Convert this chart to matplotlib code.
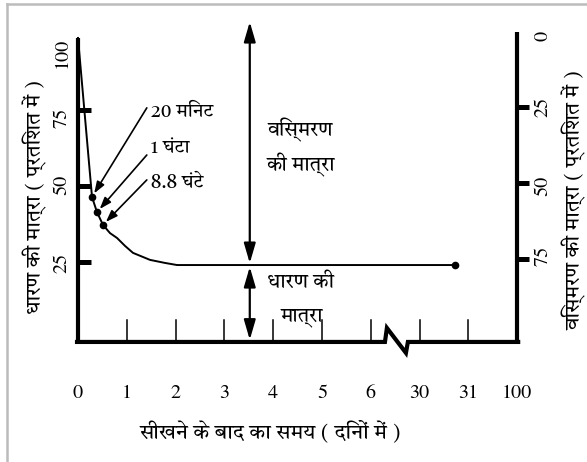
import matplotlib
matplotlib.use("Agg")
from matplotlib import pyplot as plt
from matplotlib.lines import Line2D

plt.rcParams['font.family'] = ['FreeSerif', 'DejaVu Sans']
HINDI = ['Tiro Devanagari Hindi', 'FreeSerif', 'DejaVu Sans']

# x positions are category slots (0..9), labelled with the days below
day_labels = ["0", "1", "2", "3", "4", "5", "6", "30", "31", "100"]

# retention curve (slot position, percent retained)
curve_x = [0.0, 0.287, 0.389, 0.512, 0.656, 0.80, 0.963, 1.127, 1.475, 1.78, 2.03, 7.73]
curve_y = [98.7, 46.4, 41.4, 37.2, 34.5, 32.9, 30.3, 28.0, 25.7, 24.7, 24.0, 24.0]

# marked points: 20 min, 1 hour, 8.8 hours
mark_x = [0.287, 0.389, 0.512]
mark_y = [46.4, 41.4, 37.2]
mark_text = ["20 मिनट", "1 घंटा", "8.8 घंटे"]

left_ticks = [25, 50, 75]
left_tick_labels = ["100", "75", "50", "25"]
right_tick_labels = ["0", "25", "50", "75"]

retained = 24.0
arrow_x = 3.52

fig = plt.figure(figsize=(5.87, 4.62), dpi=100)
ax = fig.add_axes([78 / 587, 124 / 462, 439.2 / 587, 304 / 462])
ax.set_xlim(0, 9)
ax.set_ylim(0, 100)
ax.axis('off')

# gray frame (top and left only, as in the scan)
fig.add_artist(Line2D([7 / 587, 7 / 587], [0, 1 - 4 / 462], color="#bcbcbc", lw=1.8))
fig.add_artist(Line2D([7 / 587, 1], [1 - 4 / 462, 1 - 4 / 462], color="#bcbcbc", lw=1.8))

# axes drawn by hand, with a break between 6 and 30
ax.plot([0, 0], [-1.3, 98.7], color="k", lw=3, clip_on=False, solid_capstyle="butt")
ax.plot([9, 9], [-1.3, 100.7], color="k", lw=3, clip_on=False, solid_capstyle="butt")
ax.plot([-0.02, 6.29, 6.33, 6.72, 6.76, 9.02], [-1.3, -1.3, 3.3, -4.9, -1.3, -1.3],
        color="k", lw=3, clip_on=False, solid_joinstyle="miter")

for v in left_ticks:
    ax.plot([0, 0.27], [v, v], color="k", lw=3.6, clip_on=False, solid_capstyle="butt")
    ax.plot([9, 9.25], [v + 1, v + 1], color="k", lw=3.6, clip_on=False, solid_capstyle="butt")

for i in range(1, 9):
    ax.plot([i, i], [-1.3, 5.8], color="k", lw=1.1, clip_on=False)

for i, lab in enumerate(day_labels):
    ax.text(i, -18.1, lab, ha="center", va="center", fontsize=14.5)

for y, lab in zip([93.8, 72.4, 50.3, 24.7], left_tick_labels):
    ax.text(-0.33, y, lab, ha="center", va="center", rotation=90, fontsize=14.5)

for y, lab in zip([99.3, 76.0, 50.0, 27.0], right_tick_labels):
    ax.text(9.53, y, lab, ha="center", va="center", rotation=90, fontsize=14.5)

ax.text(-0.88, 46.4, "धारण की मात्रा ( प्रतिशत में )", ha="center", va="center",
        rotation=90, fontsize=15, family=HINDI)
ax.text(10.18, 45.4, "विस्मरण की मात्रा ( प्रतिशत में )", ha="center", va="center",
        rotation=90, fontsize=15, family=HINDI)
ax.text(3.95, -30.9, "सीखने के बाद का समय ( दिनों में )", ha="center", va="center",
        fontsize=15, family=HINDI)

# curve
ax.plot(curve_x, curve_y, color="k", lw=1.4, clip_on=False)
ax.plot(mark_x, mark_y, "o", color="k", ms=4.5)
ax.plot(curve_x[-1], curve_y[-1], "o", color="k", ms=4.5)

for mx, my, txt, sy, ty in zip(mark_x, mark_y, mark_text,
                               [75.7, 60.2, 52.0], [74.5, 62.5, 51.0]):
    ax.annotate("", xy=(mx, my), xytext=(1.41, sy),
                arrowprops=dict(arrowstyle="-|>,head_length=0.7,head_width=0.25",
                                color="k", lw=1.2, shrinkA=0, shrinkB=3))
    ax.text(1.5, ty, txt, ha="left", va="center", fontsize=13.5, family=HINDI)

# forgetting / retention arrows
ax.annotate("", xy=(arrow_x, 104.0), xytext=(arrow_x, retained + 0.6),
            arrowprops=dict(arrowstyle="<|-|>,head_length=1.2,head_width=0.35",
                            color="k", lw=1.6, shrinkA=0, shrinkB=0),
            annotation_clip=False)
ax.annotate("", xy=(arrow_x, retained - 0.6), xytext=(arrow_x, -0.6),
            arrowprops=dict(arrowstyle="<|-|>,head_length=1.2,head_width=0.35",
                            color="k", lw=1.6, shrinkA=0, shrinkB=0))

ax.text(4.56, 68.5, "विस्मरण", ha="center", va="center", fontsize=14.5, family=HINDI)
ax.text(4.56, 57, "की मात्रा", ha="center", va="center", fontsize=14.5, family=HINDI)
ax.text(4.55, 18.1, "धारण की", ha="center", va="center", fontsize=14.5, family=HINDI)
ax.text(4.59, 6.9, "मात्रा", ha="center", va="center", fontsize=14.5, family=HINDI)

fig.savefig("out.png", dpi=100)
